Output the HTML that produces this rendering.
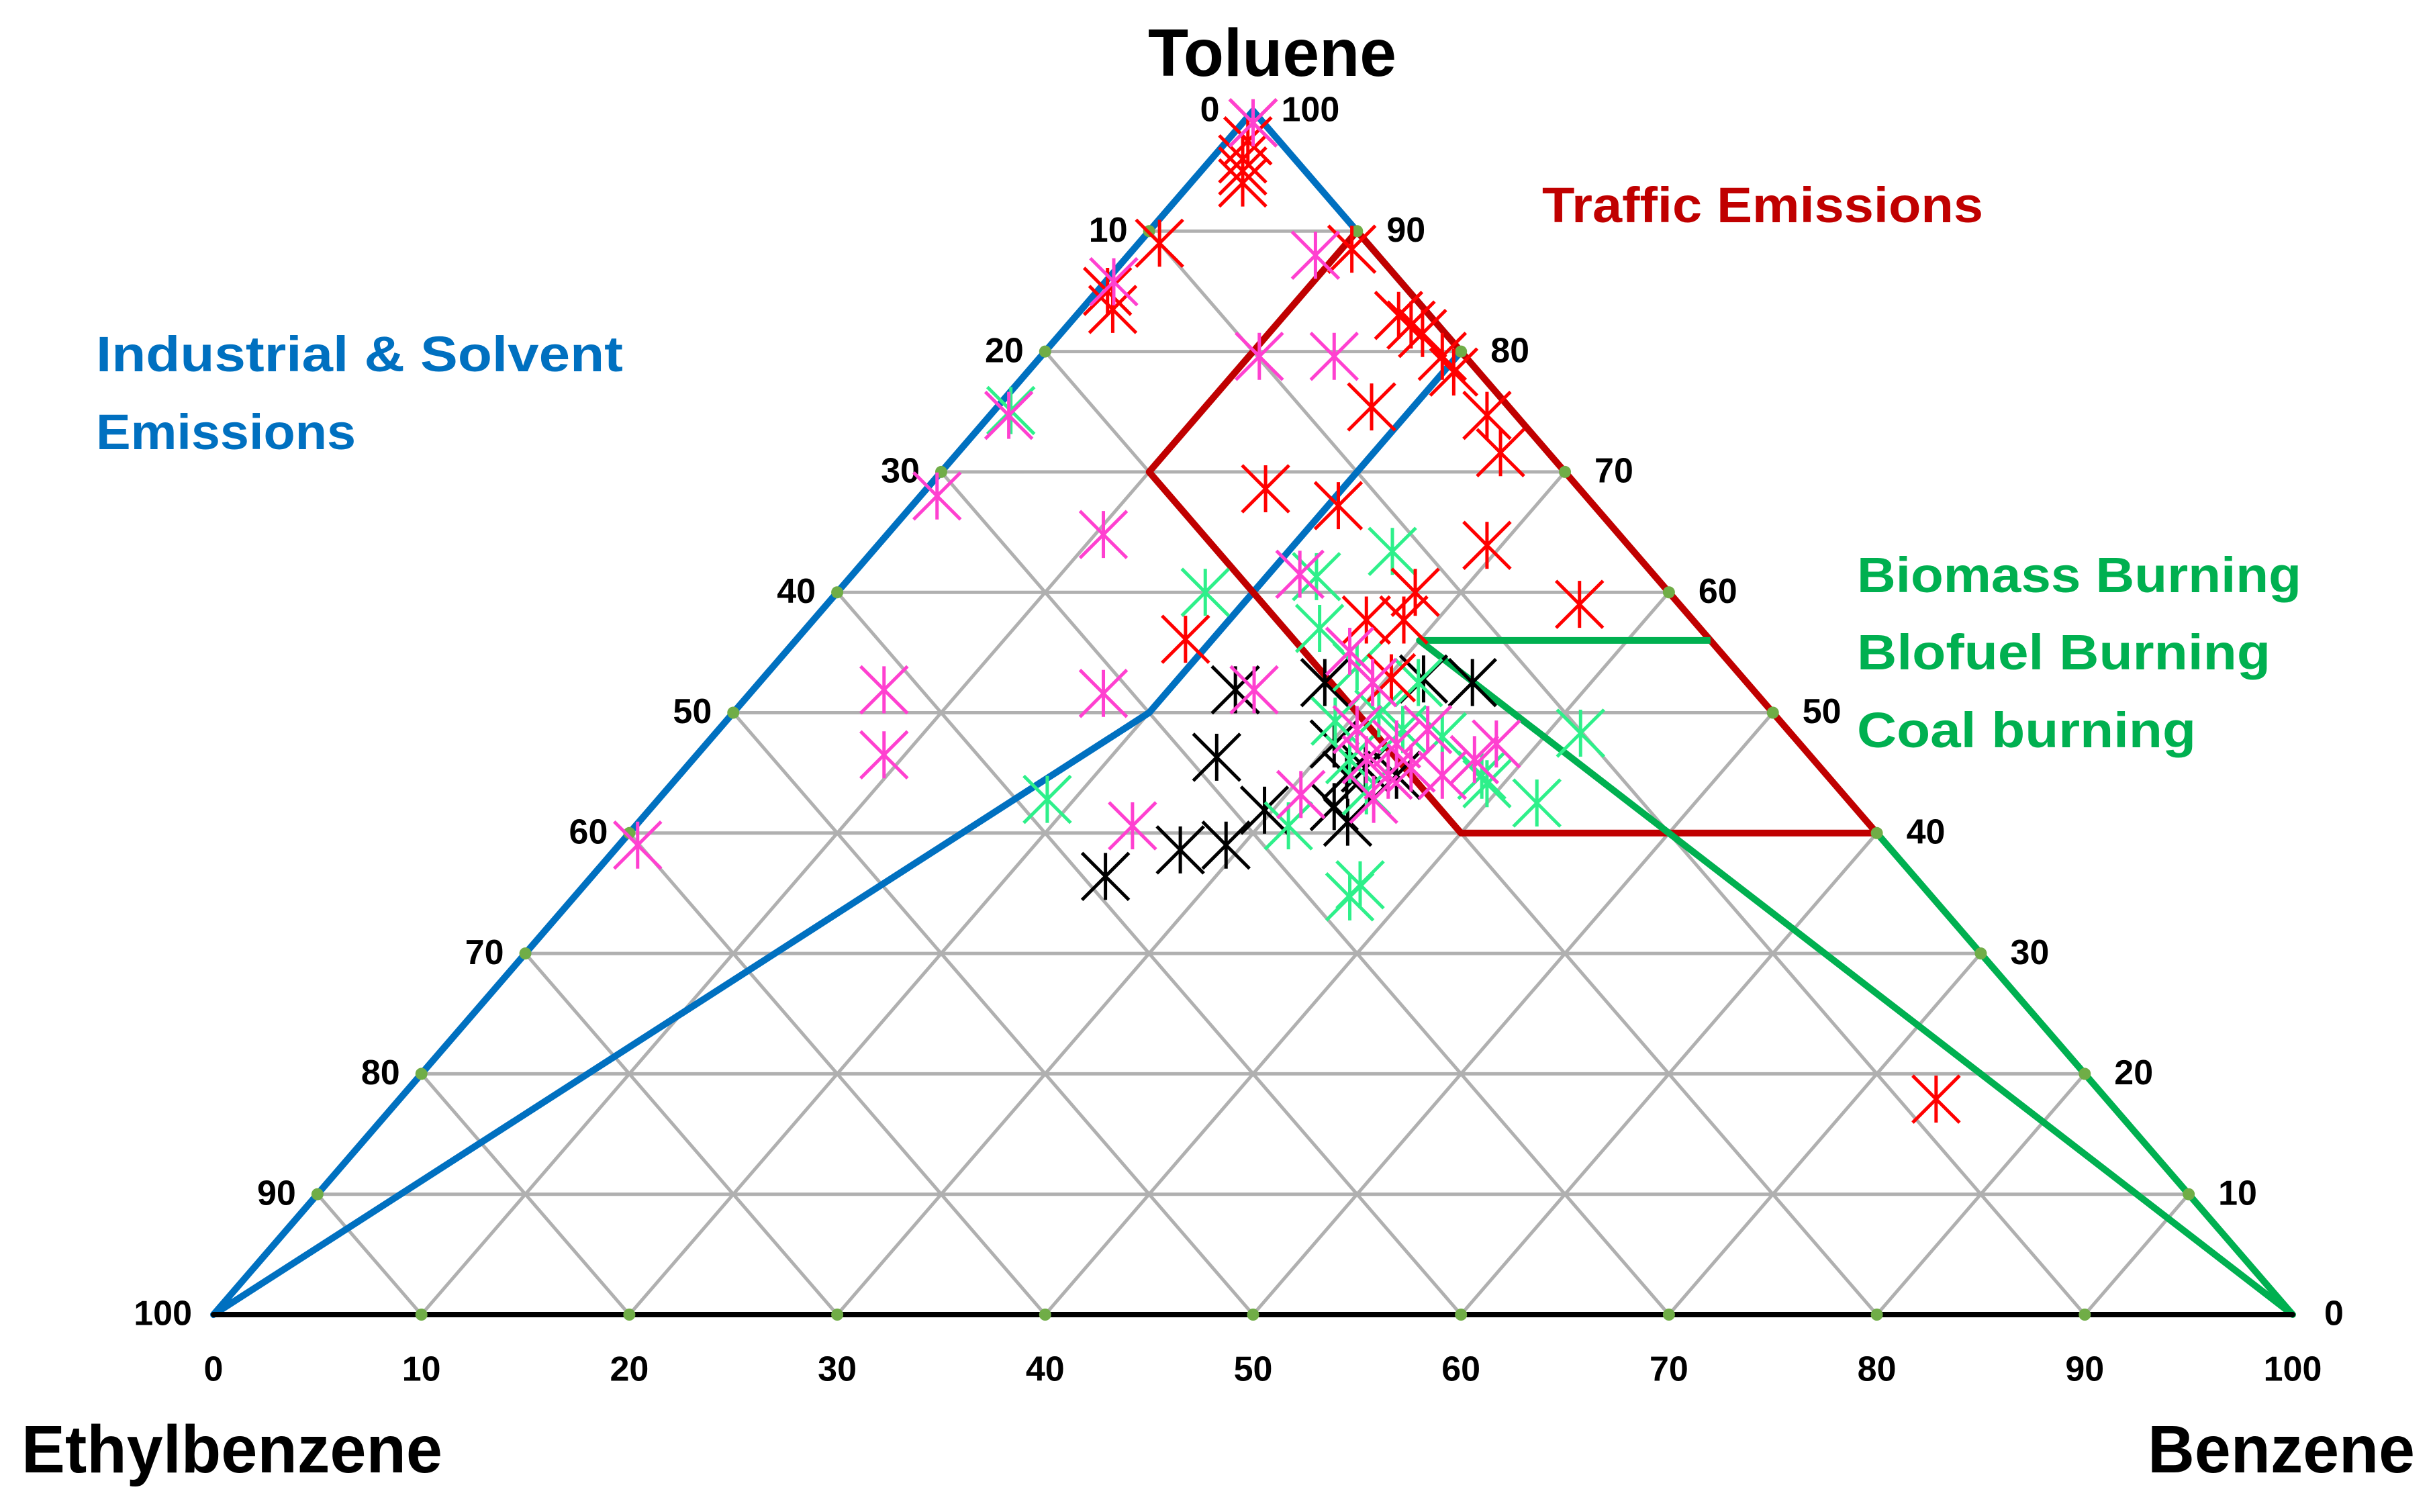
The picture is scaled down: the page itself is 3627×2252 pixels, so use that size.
<!DOCTYPE html>
<html><head><meta charset="utf-8"><style>
html,body{margin:0;padding:0;background:#fff;}
svg{display:block;}
text{font-family:"Liberation Sans",sans-serif;font-weight:bold;}
</style></head><body>
<svg id="chart" width="3627" height="2252" viewBox="0 0 3627 2252" xmlns="http://www.w3.org/2000/svg">
<g id="grid"></g>
<g id="regions"></g>
<g id="axis"></g>
<g id="points"></g>
<text x="1710" y="113" font-size="100" textLength="370" lengthAdjust="spacingAndGlyphs">Toluene</text>
<text x="32" y="2193" font-size="100" textLength="627" lengthAdjust="spacingAndGlyphs">Ethylbenzene</text>
<text x="3199" y="2193" font-size="100" textLength="398" lengthAdjust="spacingAndGlyphs">Benzene</text>
<text x="2297" y="331" font-size="74" fill="#c00000" textLength="657" lengthAdjust="spacingAndGlyphs">Traffic Emissions</text>
<text x="143" y="553" font-size="74" fill="#0070c0" textLength="785" lengthAdjust="spacingAndGlyphs">Industrial &amp; Solvent</text>
<text x="143" y="669" font-size="74" fill="#0070c0" textLength="387" lengthAdjust="spacingAndGlyphs">Emissions</text>
<text x="2766" y="882" font-size="74" fill="#00b050" textLength="662" lengthAdjust="spacingAndGlyphs">Biomass Burning</text>
<text x="2766" y="997" font-size="74" fill="#00b050" textLength="616" lengthAdjust="spacingAndGlyphs">Blofuel Burning</text>
<text x="2766" y="1113" font-size="74" fill="#00b050" textLength="505" lengthAdjust="spacingAndGlyphs">Coal burning</text>
</svg>
<script>
// data: Toluene % (T) and Benzene % (B); Ethylbenzene = 100 - T - B
const redT = [99,97.5,96,95,94,89,85,83.5,88.5,83,82.2,81.5,79.6,78.3,75.4,74.7,71.6,68.6,67.2,63.9,59,60,57.7,57.7,56.1,52.9,17.9];
const redB = [0.5,1,1.5,2,2.5,1,0.5,1.5,10.5,15.5,16.5,17.4,19.3,20.5,18,23.9,26.1,16.3,20.5,29.3,36.2,27.8,26.6,28.4,18.7,30.2,73.9];
const pinkT = [99,85.8,88,79.6,79.6,74.7,68,64.8,61.5,51.9,46.5,51.6,51.9,39,40.6,43.2,46.1,44.8,45.4,44.8,46.1,47.4,42.8,47.4,48.6,48.6,55.1,52.5];
const pinkB = [0.5,0.4,9,10.5,14.1,0.9,0.8,10.4,21.5,6.3,9,17,24.1,0.9,23.9,30.7,32.4,34.1,34.9,36.7,37.6,38,34.4,33.2,30.7,34.1,27.1,29.5];
const greenT = [75.1,60,61.3,63.4,57,53.8,42.8,40.6,48.3,42.5,44.8,35.7,34.7,49.3,46.1,49.9,48.6,48,43.5,44.1,52.5];
const greenB = [0.8,17.7,22.4,25,24.7,28.1,18.7,31.4,41.6,42.4,38.6,37.3,37.3,29.3,31.6,31.1,32.9,35.1,33.7,39.2,31.7];
const blackT = [51.9,52.5,52.8,52.5,46.3,36.4,38.6,39,41.9,42.2,44.8,47.4,45.4,40.9,44.8];
const blackB = [23.2,27.2,31.8,34.3,25.1,24.7,27.2,29.2,29.6,32.8,32.1,30.2,32.7,34.1,34.5];
const ticks = [0,10,20,30,40,50,60,70,80,90,100];
// region polygons (T,B)
const blueT = [0,50,80,100];
const blueB = [0,20,20,0];
const trafficT = [90,70,40,40];
const trafficB = [10,10,40,60];
const greenRegT = [56,56,0];
const greenRegB = [44,30,100];

const NS='http://www.w3.org/2000/svg';
const L=318,R=3415,BASE=1958,TOPY=165,W=R-L,H=BASE-TOPY;
function px(T,B){return L+B*W/100+T*W/200;}
function py(T){return BASE-T*H/100;}
function mk(tag,attrs,parent){const e=document.createElementNS(NS,tag);for(const k in attrs)e.setAttribute(k,attrs[k]);parent.appendChild(e);return e;}
const grid=document.getElementById('grid'),axis=document.getElementById('axis'),reg=document.getElementById('regions'),pts=document.getElementById('points');
function ln(T1,B1,T2,B2,parent,col,w,name){const e=mk('line',{x1:px(T1,B1),y1:py(T1),x2:px(T2,B2),y2:py(T2),stroke:col,'stroke-width':w,'stroke-linecap':'round'},parent);


return e;}
for(let k=10;k<100;k+=10){
 ln(k,0,k,100-k,grid,'#b0b0b0',5,'gridline-toluene');
 ln(0,k,100-k,k,grid,'#b0b0b0',5,'gridline-benzene');
 ln(0,100-k,100-k,0,grid,'#b0b0b0',5,'gridline-ethylbenzene');
}
ln(0,0,0,100,axis,'#000',8,'base-axis');
function poly(Ts,Bs,col,name,closed){let d='';for(let i=0;i<Ts.length;i++)d+=(i?'L':'M')+px(Ts[i],Bs[i])+' '+py(Ts[i]);if(closed)d+='Z';
const e=mk('path',{d:d,fill:'none',stroke:col,'stroke-width':10,'stroke-linejoin':'round'},reg);

}
poly(blueT,blueB,'#0070c0','industrial-region',true);
poly(trafficT,trafficB,'#c00000','traffic-region',true);
poly(greenRegT,greenRegB,'#00b050','burning-region',false);
ln(40,60,0,100,reg,'#00b050',10,'burning-region-edge');
// tick dots and labels
function txt(x,y,s,anchor,name){const e=mk('text',{x:x,y:y,'font-size':52,'text-anchor':anchor,'dominant-baseline':'middle'},axis);e.textContent=s;

}
ticks.forEach(v=>{
 if(v>0&&v<100){
  [[0,v],[v,100-v],[v,0]].forEach(p=>{const c=mk('circle',{cx:px(p[0],p[1]),cy:py(p[0]),r:9,fill:'#70ad47'},axis);
  
  });
 }
 txt(px(0,v),2043,String(v),'middle','benzene-tick-label');
 if(v<100) txt(px(v,100-v)+(v===0?47:44),py(v)+2,String(v),'start','toluene-tick-label');
 else txt(px(100,0)+42,py(100)+2,'100','start','toluene-tick-label');
 const T=100-v; txt(px(T,0)-(v===0?50:32),py(T)+2,String(v),'end','ethylbenzene-tick-label');
});
// points
function star(T,B,col,name){const x=px(T,B),y=py(T),h=35,g=mk('g',{stroke:col,'stroke-width':5},pts);


mk('line',{x1:x,y1:y-h,x2:x,y2:y+h},g);mk('line',{x1:x-h,y1:y-h,x2:x+h,y2:y+h},g);mk('line',{x1:x-h,y1:y+h,x2:x+h,y2:y-h},g);}
blackT.forEach((t,i)=>star(t,blackB[i],'#000','point-black'));
greenT.forEach((t,i)=>star(t,greenB[i],'#2ef08a','point-green'));
redT.forEach((t,i)=>star(t,redB[i],'#ff0000','point-red'));
pinkT.forEach((t,i)=>star(t,pinkB[i],'#ff40d0','point-pink'));
</script>
</body></html>
